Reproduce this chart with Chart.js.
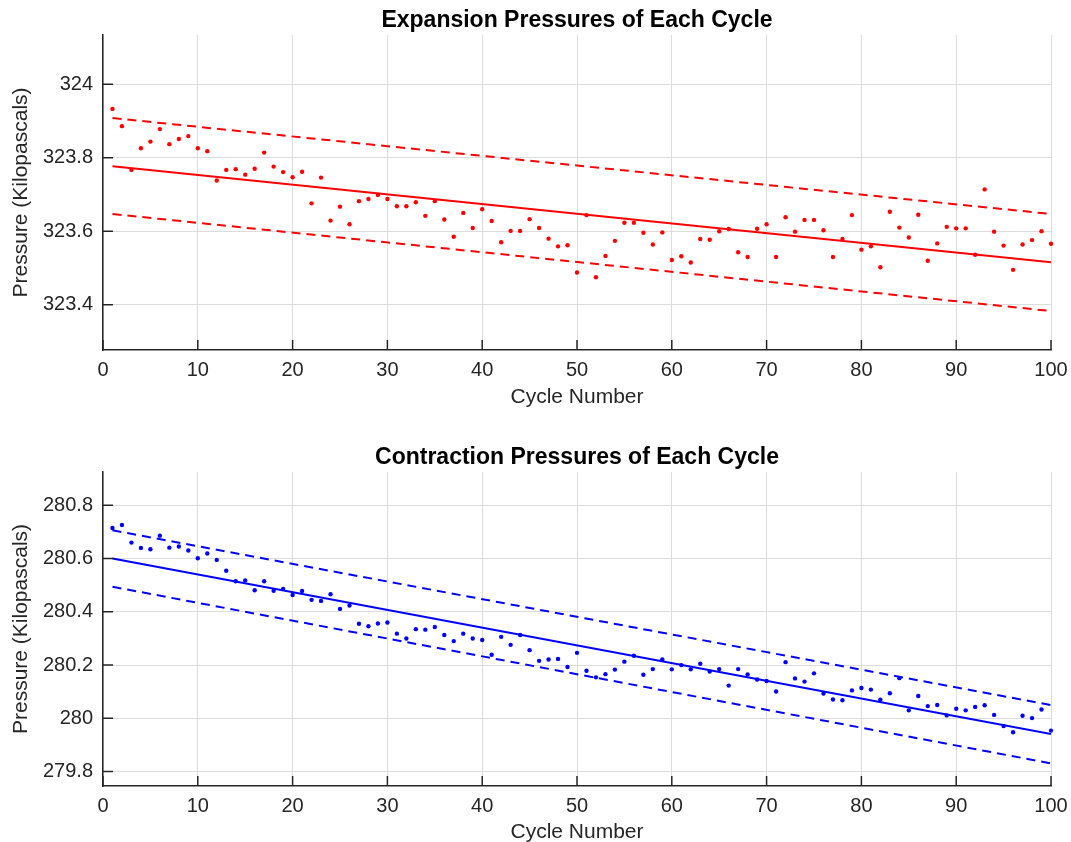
<!DOCTYPE html>
<html>
<head>
<meta charset="utf-8">
<script src="https://cdn.jsdelivr.net/npm/chart.js@4.4.1/dist/chart.umd.min.js"></script>
<style>
    html, body { margin: 0; padding: 0; background: #fff; overflow: hidden; }
    canvas { position: absolute; left: 0; }
    #chart-expansion { top: 0; }
    #chart-contraction { top: 421px; }
</style>
</head>
<body>
<canvas id="chart-expansion" width="1071" height="421"></canvas>
<canvas id="chart-contraction" width="1071" height="421"></canvas>
<script>
// --- DATA (kPa per cycle) ---
const expansion = [
    323.933, 323.886, 323.767, 323.826, 323.844, 323.878, 323.837, 323.851, 323.859, 323.826,
    323.818, 323.738, 323.767, 323.769, 323.754, 323.770, 323.814, 323.776, 323.761, 323.747,
    323.762, 323.676, 323.746, 323.629, 323.667, 323.619, 323.682, 323.688, 323.699, 323.688,
    323.668, 323.668, 323.679, 323.642, 323.682, 323.632, 323.585, 323.650, 323.609, 323.660,
    323.628, 323.570, 323.601, 323.601, 323.633, 323.609, 323.580, 323.559, 323.562, 323.488,
    323.644, 323.475, 323.533, 323.574, 323.623, 323.623, 323.596, 323.564, 323.597, 323.522,
    323.532, 323.515, 323.579, 323.577, 323.600, 323.606, 323.543, 323.530, 323.607, 323.619,
    323.530, 323.638, 323.599, 323.631, 323.631, 323.603, 323.530, 323.579, 323.644, 323.550,
    323.559, 323.502, 323.653, 323.610, 323.583, 323.645, 323.520, 323.567, 323.612, 323.608,
    323.608, 323.536, 323.714, 323.599, 323.561, 323.495, 323.564, 323.576, 323.600, 323.566
];
const contraction = [
    280.715, 280.726, 280.660, 280.640, 280.635, 280.686, 280.641, 280.645, 280.630, 280.601,
    280.619, 280.595, 280.554, 280.515, 280.518, 280.481, 280.515, 280.479, 280.486, 280.463,
    280.478, 280.445, 280.441, 280.466, 280.411, 280.424, 280.355, 280.346, 280.356, 280.360,
    280.318, 280.300, 280.335, 280.333, 280.343, 280.313, 280.290, 280.318, 280.300, 280.294,
    280.239, 280.306, 280.276, 280.313, 280.256, 280.216, 280.221, 280.223, 280.193, 280.246,
    280.179, 280.154, 280.166, 280.183, 280.213, 280.235, 280.164, 280.185, 280.221, 280.184,
    280.200, 280.184, 280.205, 280.176, 280.185, 280.123, 280.185, 280.165, 280.146, 280.140,
    280.101, 280.211, 280.150, 280.138, 280.169, 280.093, 280.071, 280.068, 280.105, 280.114,
    280.108, 280.070, 280.094, 280.151, 280.030, 280.084, 280.046, 280.050, 280.011, 280.036,
    280.030, 280.043, 280.049, 280.013, 279.971, 279.948, 280.010, 280.001, 280.033, 279.954
];
const cycles = Array.from({ length: expansion.length }, (_, i) => i + 1);

// fit line + bounds, end points at cycle 1 and 100
const fitX = [1, 100];
const expFit = [323.777, 323.516];
const expUpper = [323.908, 323.647];
const expLower = [323.647, 323.383];
const conFit = [280.600, 279.941];
const conUpper = [280.706, 280.050];
const conLower = [280.494, 279.831];

Chart.defaults.font.family = "'Liberation Sans', Arial, Helvetica, sans-serif";
const AXIS = '#262626';

// MATLAB style ticks pointing into the plot
const innerTicks = {
    id: 'innerTicks',
    afterDraw(chart) {
        const { ctx, chartArea: a, scales: { x, y } } = chart;
        ctx.save();
        ctx.strokeStyle = AXIS;
        ctx.lineWidth = 1.5;
        ctx.beginPath();
        x.ticks.forEach(t => {
            const px = x.getPixelForValue(t.value);
            ctx.moveTo(px, a.bottom);
            ctx.lineTo(px, a.bottom - 10);
        });
        y.ticks.forEach(t => {
            const py = y.getPixelForValue(t.value);
            ctx.moveTo(a.left, py);
            ctx.lineTo(a.left + 10, py);
        });
        ctx.stroke();
        ctx.restore();
    }
};

function pts(xs, ys) {
    return xs.map((x, i) => ({ x: x, y: ys[i] }));
}

function renderPressureChart(canvasId, cfg) {
    const ctx = document.getElementById(canvasId);
    const line = (data, dash) => ({
        data: pts(fitX, data),
        showLine: true,
        borderColor: cfg.color,
        borderWidth: 2,
        borderDash: dash,
        pointRadius: 0
    });

    return new Chart(ctx, {
        type: 'scatter',
        data: {
            datasets: [
                {
                    data: pts(cycles, cfg.values),
                    backgroundColor: cfg.color,
                    borderWidth: 0,
                    pointRadius: 2.2,
                    clip: false
                },
                line(cfg.fit, []),
                line(cfg.upper, [9, 6]),
                line(cfg.lower, [9, 6])
            ]
        },
        options: {
            responsive: false,
            animation: false,
            layout: { padding: { left: 0, right: 20, top: 0, bottom: 0 } },
            plugins: {
                legend: { display: false },
                tooltip: { enabled: false },
                title: {
                    display: true,
                    fullSize: false,
                    text: cfg.title,
                    color: '#000',
                    font: { size: 23, weight: 'bold', lineHeight: 1.2 },
                    padding: cfg.titlePad
                }
            },
            scales: {
                x: {
                    type: 'linear',
                    min: 0,
                    max: 100,
                    ticks: { stepSize: 10, color: AXIS, font: { size: 20 }, padding: 8 },
                    grid: { color: '#dcdcdc', lineWidth: 1, drawTicks: false },
                    border: { display: true, color: AXIS, width: 1.5 },
                    title: {
                        display: true,
                        text: 'Cycle Number',
                        color: AXIS,
                        font: { size: 21, lineHeight: 0.8 },
                        padding: { top: 0, bottom: cfg.xTitlePad }
                    },
                    afterFit(scale) {
                        scale.height = cfg.xHeight;
                        scale.paddingLeft = 0;
                        scale.paddingRight = 0;
                    }
                },
                y: {
                    min: cfg.yMin,
                    max: cfg.yMax,
                    ticks: {
                        stepSize: 0.2,
                        includeBounds: false,
                        color: AXIS,
                        font: { size: 20 },
                        padding: 10,
                        callback: v => String(+v.toFixed(1))
                    },
                    grid: { color: '#dcdcdc', lineWidth: 1, drawTicks: false },
                    border: { display: true, color: AXIS, width: 1.5 },
                    title: {
                        display: true,
                        text: 'Pressure (Kilopascals)',
                        color: AXIS,
                        font: { size: 21, lineHeight: 1.2 },
                        padding: { top: 8.4, bottom: 0 }
                    },
                    afterFit(scale) {
                        scale.width = 103;
                        scale.paddingTop = 0;
                        scale.paddingBottom = 0;
                    }
                }
            }
        },
        plugins: [innerTicks]
    });
}

renderPressureChart('chart-expansion', {
    title: 'Expansion Pressures of Each Cycle',
    color: '#ff0000',
    values: expansion,
    fit: expFit, upper: expUpper, lower: expLower,
    yMin: 323.277, yMax: 324.134,
    titlePad: { top: 6.7, bottom: 0.7 },
    xHeight: 71,
    xTitlePad: 15.6
});

renderPressureChart('chart-contraction', {
    title: 'Contraction Pressures of Each Cycle',
    color: '#0000ff',
    values: contraction,
    fit: conFit, upper: conUpper, lower: conLower,
    yMin: 279.746, yMax: 280.925,
    titlePad: { top: 22.7, bottom: 0.7 },
    xHeight: 56,
    xTitlePad: 1.6
});
</script>
</body>
</html>
